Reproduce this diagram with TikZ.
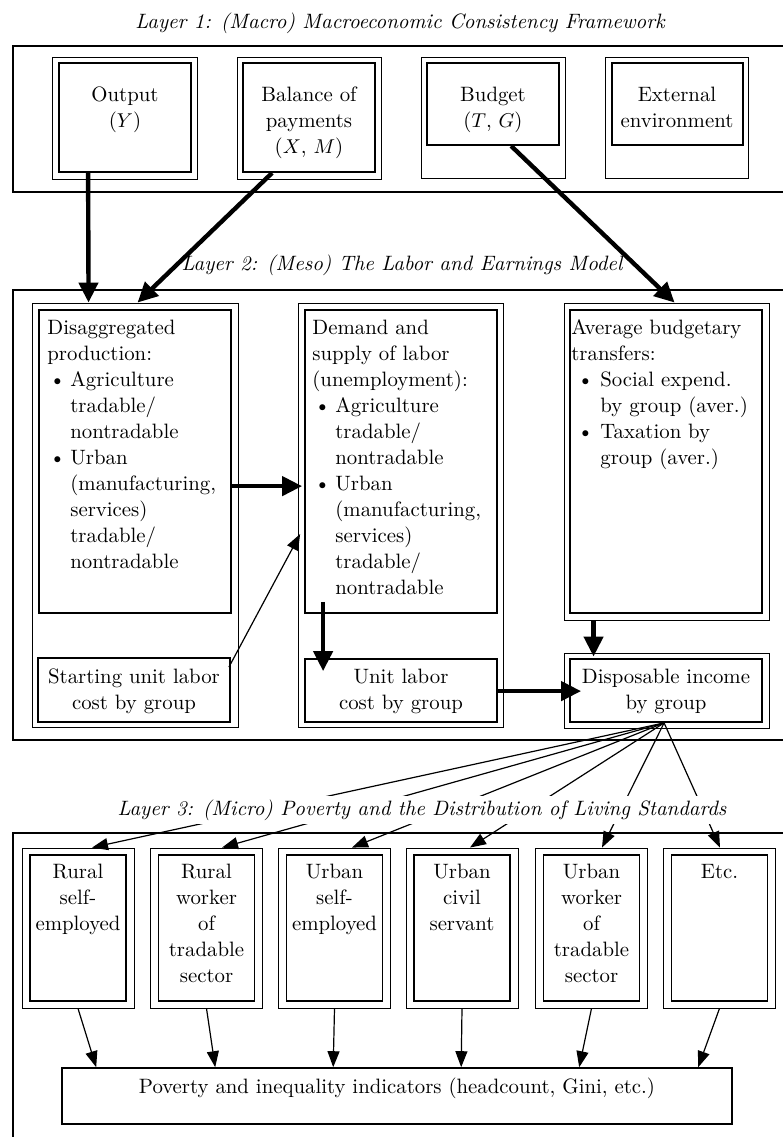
\documentclass[tikz,border=0pt]{standalone}
\usetikzlibrary{arrows.meta,fit,calc}
\newcommand\mystrut{\rule{0pt}{8pt}}
\newcommand\mybul[2]{\makebox[#1][l]{\hspace{#2}\textbullet}}
\newcommand\myind[1]{\hspace*{#1}}
\begin{document}
\begin{tikzpicture}[x=0.5pt,y=-0.5pt,
  every node/.style={font=\fontsize{10.4}{13}\selectfont, inner sep=0pt},
  layer/.style={line width=0.7pt},
  outbox/.style={draw, line width=0.45pt, inner sep=0pt},
  inbox/.style={draw, line width=0.9pt, inner sep=0pt},
  lbl/.style={align=center},
  lbll/.style={align=left, anchor=north west},
  ttl/.style={font=\fontsize{10.4}{13}\selectfont\itshape},
  bigarrow/.style={line width=2.2pt, -{Triangle[length=10pt,width=9.5pt]}},
  smallarrow/.style={line width=0.6pt, -{Triangle[length=8pt,width=6pt]}},
]
\useasboundingbox (0,0) rectangle (783,1137);

% layer frames
\draw[layer] (783,46) -- (13,46) -- (13,192) -- (783,192);
\draw[layer] (783,290) -- (13,290) -- (13,740) -- (783,740);
\draw[layer] (783,833) -- (13,833) -- (13,1137);

\node[ttl] (t1) at (400,23) {Layer 1: (Macro) Macroeconomic Consistency Framework};
\node[ttl] (t2) at (402,265) {Layer 2: (Meso) The Labor and Earnings Model};

% layer 1 boxes
\node[outbox, fit={(52,57) (197,179)}] (outo) {};
\node[inbox, fit={(59,63) (191,172)}] (outi) {};
\node[lbl, anchor=north] (outt) at (125,85) {\mystrut Output\\($Y$)};

\node[outbox, fit={(237,57) (381,179)}] (bopo) {};
\node[inbox, fit={(243,63) (375,172)}] (bopi) {};
\node[lbl, anchor=north] (bopt) at (309,85) {\mystrut Balance of\\payments\\($X$, $M$)};

\node[outbox, fit={(421,57) (565,178)}] (budo) {};
\node[inbox, fit={(427,63) (559,145)}] (budi) {};
\node[lbl, anchor=north] (budt) at (493,85) {\mystrut Budget\\($T$, $G$)};

\node[outbox, fit={(605,57) (748,178)}] (exto) {};
\node[inbox, fit={(612,63) (743,145)}] (exti) {};
\node[lbl, anchor=north] (extt) at (677,85) {\mystrut External\\environment};

% layer 2 boxes
\node[outbox, fit={(32,303) (238,727)}] (diso) {};
\node[inbox, fit={(39,310) (231,613)}] (disi) {};
\node[inbox, fit={(38,658) (230,722)}] (start) {};
\node[outbox, fit={(298,303) (503,727)}] (demo) {};
\node[inbox, fit={(305,310) (497,613)}] (demi) {};
\node[inbox, fit={(305,659) (497,722)}] (unit) {};
\node[outbox, fit={(564,303) (769,620)}] (avgo) {};
\node[inbox, fit={(570,310) (762,613)}] (avgi) {};
\node[outbox, fit={(564,653) (769,728)}] (dispo) {};
\node[inbox, fit={(570,659) (762,722)}] (dispi) {};

\node[lbll] (dist) at (47,318) {\mystrut Disaggregated\\production:\\\mybul{11.5pt}{1pt}Agriculture\\\myind{11.5pt}tradable/\\\myind{11.5pt}nontradable\\\mybul{11.5pt}{1pt}Urban\\\myind{11.5pt}(manufacturing,\\\myind{11.5pt}services)\\\myind{11.5pt}tradable/\\\myind{11.5pt}nontradable};
\node[lbll] (demt) at (312,318) {\mystrut Demand and\\supply of labor\\(unemployment):\\\mybul{11.5pt}{1pt}Agriculture\\\myind{11.5pt}tradable/\\\myind{11.5pt}nontradable\\\mybul{11.5pt}{1pt}Urban\\\myind{11.5pt}(manufacturing,\\\myind{11.5pt}services)\\\myind{11.5pt}tradable/\\\myind{11.5pt}nontradable};
\node[lbll] (avgt) at (571,318) {\mystrut Average budgetary\\transfers:\\\mybul{14.5pt}{3pt}Social expend.\\\myind{14.5pt}by group (aver.)\\\mybul{14.5pt}{3pt}Taxation by\\\myind{14.5pt}group (aver.)};

\node[lbl, anchor=north] (startt) at (134,667) {\mystrut Starting unit labor\\cost by group};
\node[lbl, anchor=north] (unitt) at (401,667) {\mystrut Unit labor\\cost by group};
\node[lbl, anchor=north] (dispt) at (666,667) {\mystrut Disposable income\\by group};

% layer 3 boxes
\foreach \n/\cx/\txt in {1/78/{Rural\\self-\\employed},
                         2/206.5/{Rural\\worker\\of\\tradable\\sector},
                         3/334.5/{Urban\\self-\\employed},
                         4/462/{Urban\\civil\\servant},
                         5/591.5/{Urban\\worker\\of\\tradable\\sector},
                         6/719.5/{Etc.}}{
  \node[outbox, fit={(\cx-56,848) (\cx+56,1008)}] (go\n) {};
  \node[inbox, fit={(\cx-48,855) (\cx+48,1001)}] (gi\n) {};
  \node[lbl, anchor=north] (gt\n) at (\cx,862) {\mystrut\txt};
}

\node[draw, line width=0.8pt, inner sep=0pt, fit={(62,1068) (732,1124)}] (pov) {Poverty and inequality indicators (headcount, Gini, etc.)};

% arrows layer 1 -> 2
\draw[bigarrow] ($(outi.south west)+(30,0)$) -- ($(diso.north west)+(57,0)$);
\draw[bigarrow] ($(bopi.south west)+(30,0)$) -- ($(diso.north west)+(106,0)$);
\draw[bigarrow] ($(budi.south west)+(85,0)$) -- ($(avgo.north west)+(111,0)$);

% arrows within layer 2
\draw[bigarrow] ($(disi.north east)+(0,177)$) -- ($(demi.north west)+(-2,177)$);
\draw[smallarrow] ($(start.north east)+(-2,10)$) -- ($(demi.north west)+(-4,225)$);
\draw[bigarrow] ($(demi.south west)+(19,-12)$) -- ($(unit.north west)+(19,13)$);
\draw[bigarrow] ($(unit.north east)+(0,33)$) -- ($(dispi.north west)+(12,33)$);
\draw[bigarrow] ($(avgo.south west)+(30,0)$) -- ($(dispo.north west)+(30,4)$);

% layer 2 -> 3
\foreach \n/\dx in {1/14, 2/15.5, 3/17.5, 4/8, 5/10.5, 6/0.5}
  \draw[smallarrow] ($(dispi.south west)+(95,0)$) -- ($(go\n.north)+(\dx,0)$);

% layer 3 -> poverty
\foreach \n/\dx in {1/35, 2/154, 3/272, 4/400, 5/518, 6/637}
  \draw[smallarrow] (go\n.south) -- ($(pov.north west)+(\dx,0)$);

\node[ttl, fill=white, inner xsep=1pt, inner ysep=2pt] (t3) at (422,810) {Layer 3: (Micro) Poverty and the Distribution of Living Standards};
\end{tikzpicture}
\end{document}
